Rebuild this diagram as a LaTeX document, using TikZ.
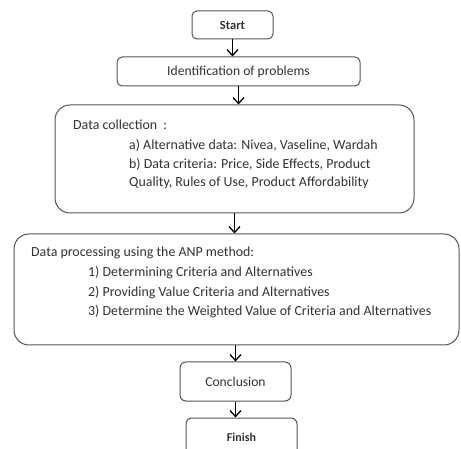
\documentclass[tikz,border=0pt]{standalone}
\usepackage{fontspec}
\setmainfont{Carlito}
\usepackage{xcolor}
\usepackage{tikz}
\usetikzlibrary{positioning,arrows.meta}

\definecolor{boxline}{HTML}{555555}
\definecolor{txt}{HTML}{333333}

\begin{document}
\begin{tikzpicture}[x=1pt, y=-1pt, >={Straight Barb[length=6pt,width=11pt,line width=1.3pt]},
    flowbox/.style={draw=boxline, line width=1pt, rounded corners=5pt, inner sep=0pt, text=txt},
    bigbox/.style={flowbox, rounded corners=15pt},
    line/.style={anchor=west, inner sep=0pt, text=txt},
    flow/.style={->, line width=1.3pt, black}]
    \clip (0,0) rectangle (461,449);
    \fill[white] (0,0) rectangle (461,449);

    % Boxes
    \node[flowbox, minimum width=81pt, minimum height=28pt, font=\bfseries\fontsize{12.5}{14}\selectfont] (start) at (232.5,25) {Start};
    \node[flowbox, minimum width=243pt, minimum height=29pt, font=\fontsize{13.6}{16}\selectfont] (ident) at (238.5,71.5) {Identification of problems};
    \node[bigbox, minimum width=359pt, minimum height=108pt] (collect) at (234.5,159) {};
    \node[bigbox, minimum width=445pt, minimum height=111pt] (anp) at (236.5,289.5) {};
    \node[flowbox, rounded corners=6pt, minimum width=111pt, minimum height=39pt, font=\fontsize{13.6}{16}\selectfont] (concl) at (235.5,381.5) {Conclusion};
    \node[flowbox, rounded corners=6pt, minimum width=111pt, minimum height=38pt, font=\bfseries\fontsize{12}{14}\selectfont] (finish) at (241.5,437) {Finish};

    % Data collection text
    \begin{scope}[font=\fontsize{13.9}{16}\selectfont]
    \node[line] (dc) at (73,125) {Data collection \ :};
    \node[line] (dca) at (129,145) {a) Alternative data: Nivea, Vaseline, Wardah};
    \node[line] (dcb) at (129,164) {b) Data criteria: Price, Side Effects, Product};
    \node[line] (dcc) at (129,183) {Quality, Rules of Use, Product Affordability};

    % ANP text
    \node[line] (dp) at (31,253) {Data processing using the ANP method:};
    \node[line] (dp1) at (88,273) {1) Determining Criteria and Alternatives};
    \node[line] (dp2) at (88,293) {2) Providing Value Criteria and Alternatives};
    \node[line] (dp3) at (88,312) {3) Determine the Weighted Value of Criteria and Alternatives};
    \end{scope}

    % Connectors
    \draw[flow] (start.south) -- (start.south |- ident.north);
    \draw[flow] (ident.south) -- (ident.south |- collect.north);
    \draw[flow] (collect.south) -- (collect.south |- anp.north);
    \draw[flow] (concl.north |- anp.south) -- (concl.north);
    \draw[flow] (concl.south) -- (concl.south |- finish.north);
\end{tikzpicture}
\end{document}
